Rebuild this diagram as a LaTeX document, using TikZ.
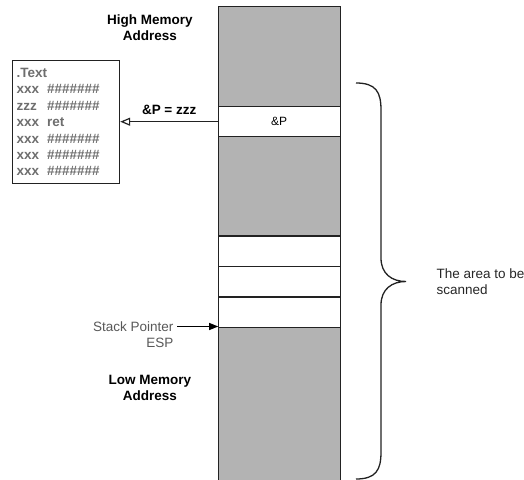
\documentclass[tikz,border=0pt]{standalone}
\usepackage{fontspec}
\setmainfont{Liberation Sans}
\usetikzlibrary{arrows.meta,positioning}
\definecolor{Fill}{HTML}{B3B3B3}
\definecolor{Edge}{HTML}{222222}
\definecolor{Code}{HTML}{6E6E6E}
\newcommand{\memrow}[2]{\makebox[30.5pt][l]{#1}#2}

\begin{document}
\begin{tikzpicture}[x=1pt,y=-1pt,
    cell/.style={draw=Edge,line width=1.3pt,minimum width=122pt,inner sep=0pt,outer sep=0pt},
    lbl/.style={font=\fontsize{13.5}{16}\selectfont}]
        \useasboundingbox(0,0)rectangle(524,479);
        % stack column, top to bottom
        \node[cell,fill=Fill,minimum height=101pt](c1)at(279.2,56.7){};
        \node[cell,fill=white,minimum height=30pt,font=\fontsize{12}{14}\selectfont](c2)at(279.2,121.7){\&P};
        \node[cell,fill=Fill,minimum height=99.3pt](c3)at(279.2,186.4){};
        \node[cell,fill=white,minimum height=30.7pt](c4)at(279.2,251.4){};
        \node[cell,fill=white,minimum height=30.3pt](c5)at(279.2,281.9){};
        \node[cell,fill=white,minimum height=30.7pt](c6)at(279.2,312.4){};
        \node[cell,fill=Fill,minimum height=170pt](c7)at(279.2,412.7){};
        \node[lbl,font=\fontsize{13.5}{16}\selectfont\bfseries,align=center](high)at(150,28){High Memory\\Address};
        \node[lbl,font=\fontsize{13.5}{16}\selectfont\bfseries,align=center](low)at(150,387.5){Low Memory\\Address};
        % text segment
        \node[draw=Edge,line width=1.2pt,anchor=north west,text width=99pt,inner xsep=4pt,minimum height=123pt,
          align=left,text=Code,font=\fontsize{13.5}{16.4}\selectfont\bfseries](seg)at(12,60)
          {.Text\\\memrow{xxx}{\#\#\#\#\#\#\#}\\\memrow{zzz}{\#\#\#\#\#\#\#}\\\memrow{xxx}{ret}\\
           \memrow{xxx}{\#\#\#\#\#\#\#}\\\memrow{xxx}{\#\#\#\#\#\#\#}\\\memrow{xxx}{\#\#\#\#\#\#\#}};
        \draw[line width=1.2pt,Edge,-{Triangle[open,length=10pt,width=8pt]}](c2.west)--(c2.west-|seg.east)
          node[midway,above=3pt,lbl,font=\fontsize{13.5}{16}\selectfont\bfseries,text=black](ptr){\&P = zzz};
        % stack pointer
        \node[lbl,anchor=east,text=Code!80!black](sp)at(177,326.5){Stack Pointer};
        \node[lbl,anchor=east,text=Code!80!black](esp)at(177,342.5){ESP};
        \draw[line width=1.2pt,-{Triangle[length=9pt,width=7pt]}](sp.east)--(sp.east-|c7.north west);
        % scanned area
        \draw[line width=1.3pt,Edge](356,83)..controls(376,83)and(381,92)..(381,110)--(381,258)
          ..controls(381,274)and(392,281.5)..(406,281.5)..controls(392,281.5)and(381,289)..(381,305)
          --(381,452)..controls(381,470)and(376,479)..(356,479);
        \node[lbl,anchor=west,align=left,text=black!85](area)at(433,282){The area to be\\scanned};
      \end{tikzpicture}
\end{document}
